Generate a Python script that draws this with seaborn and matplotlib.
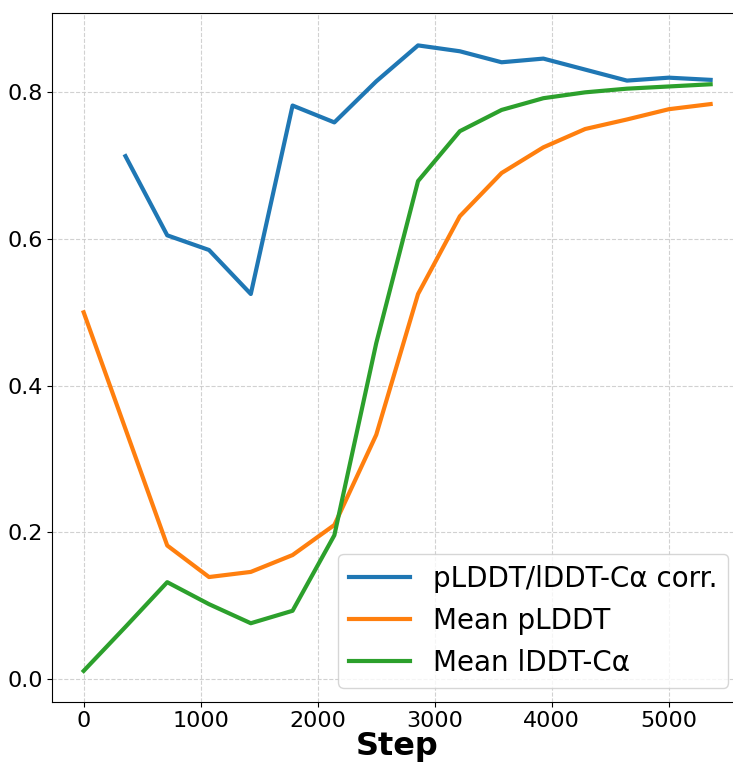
import numpy as np
import pandas as pd
import seaborn as sns
import matplotlib
matplotlib.use("Agg")
import matplotlib.pyplot as plt

steps = [0, 357, 714, 1071, 1428, 1785, 2142, 2500, 2857, 3214, 3571, 3928, 4285, 4642, 5000, 5357]
corr = [np.nan, 0.713, 0.605, 0.585, 0.525, 0.782, 0.759, 0.815, 0.864, 0.856, 0.841, 0.846, 0.831, 0.816, 0.820, 0.817]
mean_plddt = [0.500, 0.341, 0.182, 0.139, 0.146, 0.169, 0.210, 0.333, 0.525, 0.631, 0.690, 0.725, 0.750, 0.763, 0.777, 0.784]
mean_lddt = [0.011, 0.071, 0.132, 0.102, 0.076, 0.093, 0.196, 0.458, 0.679, 0.747, 0.776, 0.792, 0.800, 0.805, 0.808, 0.811]
labels = ["pLDDT/lDDT-C\u03b1 corr.", "Mean pLDDT", "Mean lDDT-C\u03b1"]

df = pd.DataFrame({"Step": steps, labels[0]: corr, labels[1]: mean_plddt, labels[2]: mean_lddt})
long = df.melt(id_vars="Step", var_name="series", value_name="value").dropna()

fig = plt.figure(figsize=(7.33, 7.63), dpi=100)
ax = fig.add_axes([52.3 / 733, 61.3 / 763, (742 - 52.3) / 733, (701.7 - 12.7) / 763])
palette = ["#1f77b4", "#ff7f0e", "#2ca02c"]
sns.lineplot(data=long, x="Step", y="value", hue="series", hue_order=labels,
             palette=palette, linewidth=3, ax=ax)

ax.set_xlim(-268, 5625)
ax.set_ylim(-0.031, 0.9086)
ax.set_xticks([0, 1000, 2000, 3000, 4000, 5000])
ax.set_yticks([0.0, 0.2, 0.4, 0.6, 0.8])
ax.tick_params(labelsize=16)
ax.grid(True, linestyle="--", color="#cccccc", linewidth=0.8, alpha=0.9)
ax.set_axisbelow(True)
ax.set_xlabel("Step", fontsize=23, fontweight="bold", labelpad=0)
ax.set_ylabel("")
leg = ax.legend(loc="lower right", fontsize=20, handlelength=2.2)
for line in leg.get_lines():
    line.set_linewidth(3)

fig.savefig("out.png", dpi=100)
